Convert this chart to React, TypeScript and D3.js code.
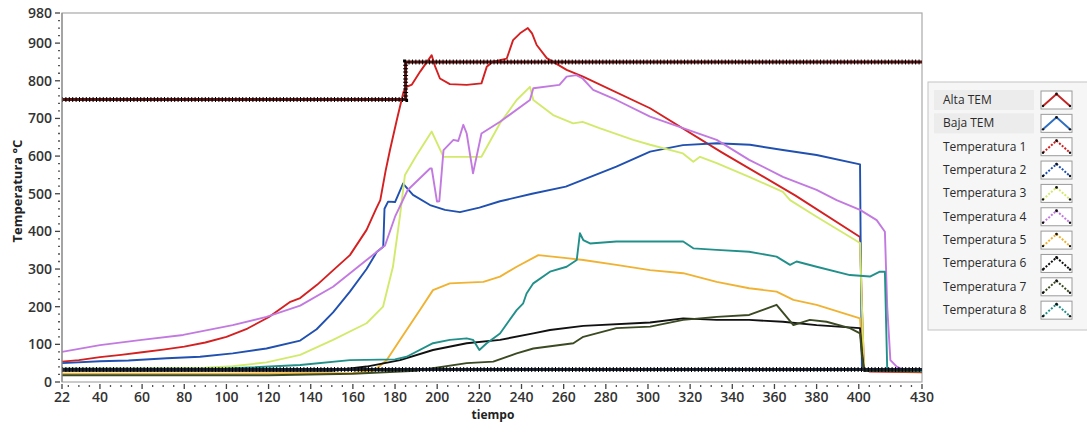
import * as d3 from "d3";

type Pt = [number, number];

const xTickLabels = [22, 40, 60, 80, 100, 120, 140, 160, 180, 200, 220, 240, 260, 280, 300, 320, 340, 360, 380, 400, 430];
const yTickLabels = [0, 100, 200, 300, 400, 500, 600, 700, 800, 900, 980];

const altaTem: Pt[] = [[22, 750], [185, 750], [185, 850], [430, 850]];
const bajaTem: Pt[] = [[22, 33], [430, 33]];

const temp1: Pt[] = [
  [22, 54], [30, 58], [40, 66], [50, 72], [60, 79], [70, 86], [80, 94], [90, 105], [100, 120], [110, 142],
  [120, 172], [130, 212], [135, 223], [143, 258], [150.7, 297], [158.6, 337], [166.5, 404], [171, 460],
  [173, 483], [175.5, 560], [177.6, 616], [181, 700], [184, 770], [185.5, 784], [188, 790], [192, 825],
  [197.4, 868], [199, 838], [201.3, 806], [206, 791], [214, 789], [221, 793], [223.5, 837], [226.5, 851],
  [233, 859], [236, 908], [239.3, 926], [243, 940], [245, 926], [247.2, 895], [252, 860], [261.4, 829],
  [269.2, 811], [301, 727], [335, 610], [370, 495], [400.6, 385], [401.5, 200], [402.5, 35], [405, 28], [430, 26],
];

const temp2: Pt[] = [
  [22, 50], [40, 55], [53.5, 57], [71.7, 63], [87.5, 67], [103, 76], [119, 89], [135, 110], [142.8, 140],
  [150.6, 185], [158.6, 240], [166.5, 300], [171.3, 345], [174.4, 359], [175, 460], [176.7, 479], [180, 478],
  [183.8, 527], [188.5, 497], [196.6, 470], [203.7, 457], [210.8, 451], [220, 463], [229.8, 480], [245, 500],
  [261, 519], [285, 572], [301, 612], [316.6, 629], [332.6, 634], [348.4, 630], [364, 616], [380, 603],
  [400.6, 578], [401, 300], [401.5, 35], [405, 30], [430, 30],
];

const temp3: Pt[] = [
  [22, 35], [60, 36], [90, 38], [103, 42], [119, 52], [135, 72], [150.6, 112], [166.5, 156], [174.3, 200],
  [179, 306], [182.3, 439], [184.7, 550], [190, 600], [197.4, 665], [203, 598], [214, 598], [221, 598],
  [229.8, 687], [237.7, 749], [244, 784], [245.6, 749], [255, 709], [264.5, 687], [269, 691], [277, 674],
  [293, 643], [301, 630], [316.6, 607], [321.5, 585], [324.7, 598], [332.6, 581], [348, 545], [364, 505],
  [367.4, 483], [380, 439], [400.6, 369], [401.5, 200], [402.5, 35], [405, 30], [430, 30],
];

const temp4: Pt[] = [
  [22, 80], [40, 98], [59.8, 112], [79.5, 125], [103, 151], [119, 173], [135, 203], [150.6, 253], [166.5, 324],
  [174.4, 359], [175.2, 362], [180, 439], [186, 510], [196.6, 567], [197.4, 567], [199.9, 479], [201, 480],
  [203, 616], [207.7, 643], [210, 640], [212.4, 683], [214, 660], [217, 554], [221, 660], [229.8, 691],
  [244, 749], [245.6, 780], [258, 789], [261.4, 811], [266, 815], [269, 806], [274, 776], [285, 749],
  [301, 705], [332.6, 643], [348, 590], [364, 545], [380, 510], [389.5, 483], [400.6, 457], [408.5, 430],
  [412.4, 399], [413.5, 200], [415, 58], [418, 41], [422, 30], [430, 30],
];

const temp5: Pt[] = [
  [22, 22], [100, 22], [160, 24], [170, 30], [176, 58], [182.4, 112], [191.8, 191], [198, 244], [206, 262],
  [221.9, 266], [229.8, 280], [237.7, 306], [248, 337], [261.4, 329], [269.3, 324], [285, 311], [301, 297],
  [316.7, 289], [332.6, 266], [348, 249], [361, 240], [369, 218], [380, 205], [400.6, 169], [401.5, 100],
  [402.5, 30], [430, 28],
];

const temp6: Pt[] = [
  [22, 30], [100, 30], [150, 30], [166.5, 41], [182.4, 58], [198, 85], [214, 103], [229.8, 112], [245.6, 129],
  [253.5, 138], [269.3, 149], [301, 158], [316.7, 169], [332.6, 165], [348, 165], [364, 160], [380, 151],
  [400.6, 143], [401.5, 80], [402.5, 30], [430, 30],
];

const temp7: Pt[] = [
  [22, 18], [120, 18], [160, 22], [190, 30], [214, 50], [226.6, 54], [237.7, 76], [245.6, 89], [264.6, 103],
  [269.3, 120], [285, 143], [301, 147], [316.7, 165], [332.6, 173], [348, 178], [361, 205], [369, 151],
  [376.8, 165], [384.7, 160], [395.8, 143], [400.6, 129], [401.5, 70], [402.5, 30], [430, 28],
];

const temp8: Pt[] = [
  [22, 35], [100, 36], [135, 45], [158.6, 58], [180, 60], [185.5, 67], [198, 103], [206, 112], [214, 116],
  [217, 112], [220, 85], [223.5, 103], [229.8, 129], [237.7, 191], [240.8, 209], [242.4, 235], [245.6, 262],
  [253.5, 293], [261.4, 306], [266.2, 324], [267.7, 395], [269.3, 377], [272.5, 368], [285, 373], [301, 373],
  [316.7, 373], [321.5, 355], [332.6, 351], [348, 346], [361, 333], [367.4, 311], [370.5, 320], [380, 306],
  [395.8, 284], [405.3, 280], [410, 293], [412.4, 293], [413, 150], [413.5, 35], [430, 30],
];

const seriesNames = ["Alta TEM", "Baja TEM", "Temperatura 1", "Temperatura 2", "Temperatura 3", "Temperatura 4", "Temperatura 5", "Temperatura 6", "Temperatura 7", "Temperatura 8"];
const seriesColors = ["#c42424", "#2f6fc0", "#d42020", "#2050b0", "#d2ea6c", "#c27ae0", "#f0b232", "#111111", "#3b4a22", "#22908a"];

const W = 1087;
const H = 423;
const plot = { left: 62, right: 922, top: 13, bottom: 382 };
const font = "'Open Sans', 'DejaVu Sans', sans-serif";

export default function App() {
  const x = d3.scaleLinear().domain([22, 430]).range([plot.left, plot.right]);
  const y = d3.scaleLinear().domain([0, 980]).range([plot.bottom, plot.top]);
  const line = d3.line<Pt>().x((d) => x(d[0])).y((d) => y(d[1]));

  const temps = [temp1, temp2, temp3, temp4, temp5, temp6, temp7, temp8];
  const xMinor = d3.range(25, 430, 5).filter((v) => !xTickLabels.includes(v));
  const yMinor = d3.range(20, 980, 20).filter((v) => !yTickLabels.includes(v));

  const legendTop = 82;
  const rowH = 23.35;

  return (
    <svg width={W} height={H} style={{ position: "absolute", left: 0, top: 0, background: "#fff" }}>
      {/* plot frame */}
      <rect x={plot.left} y={plot.top} width={plot.right - plot.left} height={plot.bottom - plot.top} fill="#fff" stroke="#a8a8a8" strokeWidth={1.2} />

      {/* temperature traces */}
      {temps.map((d, i) => (
        <path key={i} d={line(d) ?? ""} fill="none" stroke={seriesColors[i + 2]} strokeWidth={1.9} strokeLinejoin="round" />
      ))}

      {/* set point lines with dense markers */}
      <path d={line(bajaTem) ?? ""} fill="none" stroke="#1b2433" strokeWidth={3} />
      <path d={line(bajaTem) ?? ""} fill="none" stroke="#000" strokeWidth={5} strokeDasharray="1 2.4" />
      <path d={line(altaTem) ?? ""} fill="none" stroke="#5a1414" strokeWidth={3} />
      <path d={line(altaTem) ?? ""} fill="none" stroke="#000" strokeWidth={5} strokeDasharray="1 2.4" />

      {/* y axis */}
      <line x1={plot.left} x2={plot.left} y1={plot.top} y2={plot.bottom} stroke="#8a8a8a" strokeWidth={1.2} />
      {yTickLabels.map((t) => (
        <g key={t} transform={`translate(0, ${y(t)})`}>
          <line x1={plot.left - 7} x2={plot.left - 2} stroke="#444" strokeWidth={1.3} />
          <text x={plot.left - 10} y={5} textAnchor="end" fontFamily={font} fontWeight={600} fontSize={14} fill="#333">
            {t}
          </text>
        </g>
      ))}
      {yMinor.map((t) => (
        <line key={t} x1={plot.left - 4} x2={plot.left - 2} y1={y(t)} y2={y(t)} stroke="#555" strokeWidth={1.3} />
      ))}

      {/* x axis */}
      {xTickLabels.map((t) => (
        <g key={t} transform={`translate(${x(t)}, 0)`}>
          <line y1={plot.bottom + 2} y2={plot.bottom + 7} stroke="#444" strokeWidth={1.3} />
          <text y={plot.bottom + 20} textAnchor="middle" fontFamily={font} fontWeight={600} fontSize={14} fill="#333">
            {t}
          </text>
        </g>
      ))}
      {xMinor.map((t) => (
        <line key={t} x1={x(t)} x2={x(t)} y1={plot.bottom + 3} y2={plot.bottom + 5} stroke="#555" strokeWidth={1.3} />
      ))}

      <text x={493} y={419} textAnchor="middle" fontFamily={font} fontWeight={700} fontSize={12} fill="#222">
        tiempo
      </text>
      <text transform={`translate(22, 191) rotate(-90)`} textAnchor="middle" fontFamily={font} fontWeight={700} fontSize={13} fill="#222">
        Temperatura °C
      </text>

      {/* legend */}
      <rect x={928} y={legendTop} width={W - 928 + 2} height={248} fill="#f6f6f6" stroke="#c4c4c4" strokeWidth={1} />
      {seriesNames.map((name, i) => {
        const cy = legendTop + 18 + i * rowH;
        const dashed = i >= 2;
        return (
          <g key={name}>
            {i < 2 ? <rect x={934} y={cy - 10} width={100} height={20} fill="#ececec" /> : null}
            <text x={943} y={cy + 4} fontFamily={font} fontSize={12} fill="#2a2a2a">
              {name}
            </text>
            <rect x={1041} y={cy - 9} width={31} height={18} fill="#fff" stroke="#9a9a9a" strokeWidth={1} />
            <polyline
              points={`1043,${cy + 6} 1056.5,${cy - 6} 1070,${cy + 6}`}
              fill="none"
              stroke={seriesColors[i]}
              strokeWidth={2}
              strokeDasharray={dashed ? "2 1.6" : undefined}
            />
            <circle cx={1056.5} cy={cy - 6} r={1.4} fill="#111" />
            <circle cx={1043} cy={cy + 6} r={1.2} fill="#111" />
            <circle cx={1070} cy={cy + 6} r={1.2} fill="#111" />
          </g>
        );
      })}
    </svg>
  );
}
